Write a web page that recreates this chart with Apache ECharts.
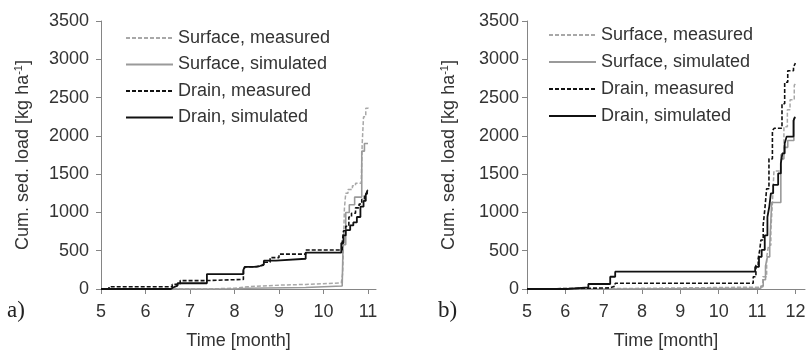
<!DOCTYPE html>
<html>
<head>
<meta charset="utf-8">
<script src="https://cdn.jsdelivr.net/npm/echarts@6/dist/echarts.min.js"></script>
<style>
  html, body { margin: 0; padding: 0; background: #fff; }
  #chart { width: 808px; height: 350px; }
</style>
</head>
<body>
<div id="chart"></div>
<script>
// Cumulative sediment load, step events: [month, cumulative kg/ha]
const seriesNames = ['Surface, measured', 'Surface, simulated', 'Drain, measured', 'Drain, simulated'];
const yTicks = [0, 500, 1000, 1500, 2000, 2500, 3000, 3500];
const xTicksA = [5, 6, 7, 8, 9, 10, 11];
const xTicksB = [5, 6, 7, 8, 9, 10, 11, 12];

// Panel a)
const aSurfMeas = [[5,0],[7.4,10],[8.0,30],[8.3,50],[9.0,60],[9.6,80],[10.4,100],[10.43,200],[10.47,1050],[10.5,1250],[10.55,1300],[10.65,1350],[10.72,1380],[10.85,1420],[10.87,1900],[10.9,2250],[10.95,2360],[11.0,2370]];
const aSurfSim = [[5,0],[8.0,10],[8.3,20],[9.6,40],[10.42,60],[10.44,580],[10.5,1000],[10.58,1100],[10.7,1200],[10.86,1800],[10.92,1900],[11.0,1900]];
const aDrainMeas = [[5,0],[5.18,30],[6.6,60],[6.78,110],[7.35,125],[8.2,250],[8.24,290],[8.5,310],[8.65,350],[8.8,410],[9.0,455],[9.6,510],[10.42,600],[10.45,760],[10.5,820],[10.57,940],[10.63,990],[10.72,1060],[10.8,1110],[10.86,1170],[10.92,1240],[10.98,1290],[11.0,1290]];
const aDrainSim = [[5,0],[6.57,20],[6.62,45],[6.72,75],[7.38,195],[8.2,250],[8.23,290],[8.44,300],[8.57,320],[8.66,370],[8.93,395],[9.6,475],[10.4,600],[10.45,700],[10.5,770],[10.6,830],[10.67,870],[10.75,940],[10.83,1075],[10.9,1150],[10.95,1230],[10.99,1290],[11.0,1290]];

// Panel b)
const bSurfMeas = [[5,0],[6.0,5],[7.3,25],[11.15,160],[11.25,420],[11.3,570],[11.36,770],[11.4,1120],[11.44,1540],[11.62,1770],[11.7,2120],[11.79,2340],[11.86,2470],[11.97,2660],[12.0,2680]];
const bSurfSim = [[5,0],[7.3,10],[11.1,40],[11.16,120],[11.22,300],[11.27,420],[11.33,560],[11.38,1130],[11.62,1700],[11.7,1850],[11.8,1940],[11.96,2230],[12.0,2230]];
const bDrainMeas = [[5,0],[5.2,5],[6.0,15],[7.17,40],[7.3,75],[10.9,160],[10.97,310],[11.03,400],[11.07,510],[11.1,640],[11.16,840],[11.2,1030],[11.25,1310],[11.31,1700],[11.4,2070],[11.45,2100],[11.65,2420],[11.72,2700],[11.8,2850],[11.95,2900],[12.0,2950]];
const bDrainSim = [[5,0],[6.04,22],[6.6,65],[7.17,160],[7.3,226],[10.95,290],[11.05,420],[11.12,510],[11.2,700],[11.27,940],[11.32,1080],[11.36,1250],[11.42,1360],[11.55,1510],[11.62,1640],[11.66,1770],[11.72,1900],[11.77,1990],[11.95,2200],[11.99,2250],[12.0,2250]];

const FONT = '"Liberation Sans", Arial, sans-serif';
const TEXT = '#333333';
const AXIS = '#858585';

const styles = [
  { color: '#a8a8a8', width: 1.5, type: [4, 2] },
  { color: '#9a9a9a', width: 1.6, type: 'solid' },
  { color: '#111111', width: 1.6, type: [4, 2] },
  { color: '#111111', width: 1.8, type: 'solid' }
];

function makeSeries(idx, list) {
  return list.map((d, i) => ({
    name: seriesNames[i],
    type: 'line',
    step: 'end',
    xAxisIndex: idx,
    yAxisIndex: idx,
    showSymbol: false,
    symbol: 'none',
    animation: false,
    data: d,
    lineStyle: styles[i],
    itemStyle: { color: styles[i].color },
    z: 2 + i
  }));
}

function xAxis(idx, max, ticks) {
  return {
    type: 'value', gridIndex: idx, min: 5, max: max,
    name: 'Time [month]', nameLocation: 'middle', nameGap: 43,
    nameTextStyle: { fontFamily: FONT, fontSize: 18, color: TEXT },
    axisLine: { lineStyle: { color: AXIS, width: 1 } },
    axisTick: { show: true, length: 5, lineStyle: { color: AXIS }, customValues: ticks },
    axisLabel: { fontFamily: FONT, fontSize: 18, color: TEXT, margin: 14, customValues: ticks, formatter: v => String(v) },
    splitLine: { show: false }
  };
}

function yAxis(idx, labelMargin, nameGap) {
  return {
    type: 'value', gridIndex: idx, min: 0, max: 3500, interval: 500,
    name: 'Cum. sed. load [kg ha{sup|-1}]', nameLocation: 'middle', nameGap: nameGap, nameRotate: 90,
    nameTextStyle: {
      fontFamily: FONT, fontSize: 18, color: TEXT,
      rich: { sup: { fontFamily: FONT, fontSize: 11, color: TEXT, padding: [0, 0, 9, 0] } }
    },
    axisLine: { show: true, lineStyle: { color: AXIS, width: 1 } },
    axisTick: { show: true, length: 5, lineStyle: { color: AXIS }, customValues: yTicks },
    axisLabel: { fontFamily: FONT, fontSize: 18, color: TEXT, margin: labelMargin, customValues: yTicks, formatter: v => String(v) },
    splitLine: { show: false }
  };
}

function legend(left, top, gap) {
  return {
    orient: 'vertical', left: left, top: top, padding: 0,
    data: seriesNames, itemWidth: 47, itemHeight: 14, itemGap: gap,
    selectedMode: false,
    itemStyle: { opacity: 0 },
    textStyle: { fontFamily: FONT, fontSize: 18, color: TEXT, lineHeight: 18, padding: [0, 0, 0, 0] }
  };
}

const chart = echarts.init(document.getElementById('chart'), null, { renderer: 'canvas' });
chart.setOption({
  animation: false,
  backgroundColor: '#ffffff',
  grid: [
    { left: 101, top: 21, width: 275, height: 268, outerBoundsMode: 'none', containLabel: false },
    { left: 527, top: 21, width: 278, height: 268, outerBoundsMode: 'none', containLabel: false }
  ],
  xAxis: [xAxis(0, 11.18, xTicksA), xAxis(1, 12.25, xTicksB)],
  yAxis: [yAxis(0, 12, 68), yAxis(1, 8, 68)],
  legend: [legend(125, 29, 8.5), legend(548, 26, 9)],
  graphic: [
    { type: 'text', left: 7, top: 299, style: { text: 'a)', fontFamily: '"Liberation Serif", "Times New Roman", serif', fontSize: 23, fill: '#222' } },
    { type: 'text', left: 438, top: 299, style: { text: 'b)', fontFamily: '"Liberation Serif", "Times New Roman", serif', fontSize: 23, fill: '#222' } }
  ],
  series: [
    ...makeSeries(0, [aSurfMeas, aSurfSim, aDrainMeas, aDrainSim]),
    ...makeSeries(1, [bSurfMeas, bSurfSim, bDrainMeas, bDrainSim])
  ]
});
</script>
</body>
</html>
